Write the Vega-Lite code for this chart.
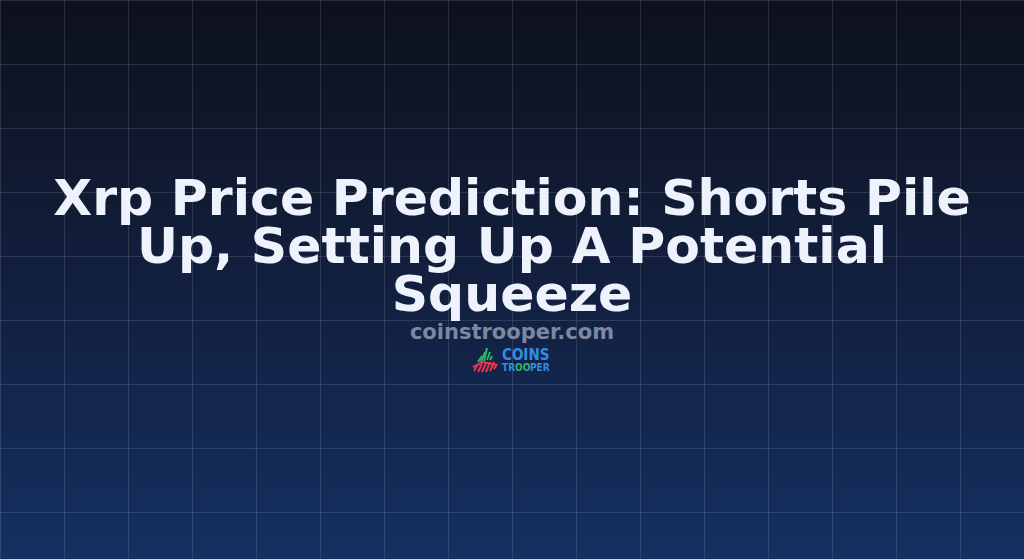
{
  "$schema": "https://vega.github.io/schema/vega-lite/v6.json",
  "width": 1024,
  "height": 559,
  "padding": 0,
  "autosize": "none",
  "background": "#0d111d",
  "view": {"stroke": null},
  "config": {"axis": {"domain": false}},
  "layer": [
    {
      "data": {"values": [{"x": 0, "x2": 1024, "y": 0, "y2": 559}]},
      "mark": {"type": "rect", "fill": {"gradient": "linear", "x1": 0, "y1": 0, "x2": 0, "y2": 1, "stops": [{"offset": 0, "color": "#0d111c"}, {"offset": 0.5, "color": "#121f3e"}, {"offset": 1, "color": "#143061"}]}},
      "encoding": {
        "x": {"field": "x", "type": "quantitative", "scale": {"domain": [0, 1024], "nice": false, "zero": false}, "axis": null},
        "x2": {"field": "x2"},
        "y": {"field": "y", "type": "quantitative", "scale": {"domain": [0, 559], "nice": false, "zero": false, "reverse": true}, "axis": null},
        "y2": {"field": "y2"}
      }
    },
    {
      "data": {"values": [{"v": 0}, {"v": 64}, {"v": 128}, {"v": 192}, {"v": 256}, {"v": 320}, {"v": 384}, {"v": 448}, {"v": 512}, {"v": 576}, {"v": 640}, {"v": 704}, {"v": 768}, {"v": 832}, {"v": 896}, {"v": 960}]},
      "mark": {"type": "rule", "color": "#ffffff", "opacity": 0.12, "strokeWidth": 1, "xOffset": 0.5},
      "encoding": {
        "x": {"field": "v", "type": "quantitative"}
      }
    },
    {
      "data": {"values": [{"v": 0}, {"v": 64}, {"v": 128}, {"v": 192}, {"v": 256}, {"v": 320}, {"v": 384}, {"v": 448}, {"v": 512}]},
      "mark": {"type": "rule", "color": "#ffffff", "opacity": 0.12, "strokeWidth": 1, "yOffset": 0.5},
      "encoding": {
        "y": {"field": "v", "type": "quantitative"}
      }
    },
    {
      "data": {"values": [
        {"x": 512, "y": 215, "line": "Xrp Price Prediction: Shorts Pile"},
        {"x": 512, "y": 263, "line": "Up, Setting Up A Potential"},
        {"x": 512, "y": 311, "line": "Squeeze"}
      ]},
      "mark": {"type": "text", "font": "DejaVu Sans", "fontWeight": "bold", "fontSize": 50.5, "color": "#eef2fc", "align": "center", "baseline": "alphabetic"},
      "encoding": {
        "x": {"field": "x", "type": "quantitative"},
        "y": {"field": "y", "type": "quantitative"},
        "text": {"field": "line", "type": "nominal"}
      }
    },
    {
      "data": {"values": [{"x": 512, "y": 339, "label": "coinstrooper.com"}]},
      "mark": {"type": "text", "font": "DejaVu Sans", "fontWeight": "bold", "fontSize": 21, "color": "#7d879f", "align": "center", "baseline": "alphabetic"},
      "encoding": {
        "x": {"field": "x", "type": "quantitative"},
        "y": {"field": "y", "type": "quantitative"},
        "text": {"field": "label", "type": "nominal"}
      }
    },
    {
      "data": {"values": [{"x": 502, "y": 360, "label": "COINS"}]},
      "mark": {"type": "text", "font": "DejaVu Sans Condensed", "fontWeight": "bold", "fontSize": 15, "color": "#2f8fe3", "align": "left", "baseline": "alphabetic"},
      "encoding": {
        "x": {"field": "x", "type": "quantitative"},
        "y": {"field": "y", "type": "quantitative"},
        "text": {"field": "label", "type": "nominal"}
      }
    },
    {
      "data": {"values": [
        {"x": 502, "y": 371, "label": "TR", "c": "blue"},
        {"x": 515, "y": 371, "label": "OO", "c": "green"},
        {"x": 530, "y": 371, "label": "PER", "c": "blue"}
      ]},
      "mark": {"type": "text", "font": "DejaVu Sans Condensed", "fontWeight": "bold", "fontSize": 10, "align": "left", "baseline": "alphabetic"},
      "encoding": {
        "x": {"field": "x", "type": "quantitative"},
        "y": {"field": "y", "type": "quantitative"},
        "text": {"field": "label", "type": "nominal"},
        "color": {"field": "c", "type": "nominal", "scale": {"domain": ["blue", "green", "red"], "range": ["#2f8fe3", "#2fb56b", "#e8364c"]}, "legend": null}
      }
    },
    {
      "data": {"values": [
        {"x": 478, "y": 362, "x2": 482, "y2": 356, "c": "green"},
        {"x": 481, "y": 362, "x2": 485, "y2": 352, "c": "green"},
        {"x": 484, "y": 361, "x2": 487, "y2": 348, "c": "green"},
        {"x": 487, "y": 360, "x2": 490, "y2": 352, "c": "green"},
        {"x": 490, "y": 360, "x2": 492, "y2": 356, "c": "green"},
        {"x": 474, "y": 371, "x2": 478, "y2": 364, "c": "red"},
        {"x": 478, "y": 372, "x2": 482, "y2": 364, "c": "red"},
        {"x": 482, "y": 372, "x2": 486, "y2": 363, "c": "red"},
        {"x": 486, "y": 372, "x2": 490, "y2": 362, "c": "red"},
        {"x": 490, "y": 371, "x2": 494, "y2": 362, "c": "red"},
        {"x": 494, "y": 369, "x2": 497, "y2": 364, "c": "red"},
        {"x": 473, "y": 367, "x2": 483, "y2": 362, "c": "red"},
        {"x": 483, "y": 362, "x2": 497, "y2": 365, "c": "red"}
      ]},
      "mark": {"type": "rule", "strokeWidth": 2},
      "encoding": {
        "x": {"field": "x", "type": "quantitative"},
        "y": {"field": "y", "type": "quantitative"},
        "x2": {"field": "x2"},
        "y2": {"field": "y2"},
        "color": {"field": "c", "type": "nominal", "scale": {"domain": ["blue", "green", "red"], "range": ["#2f8fe3", "#2fb56b", "#e8364c"]}, "legend": null}
      }
    }
  ]
}
